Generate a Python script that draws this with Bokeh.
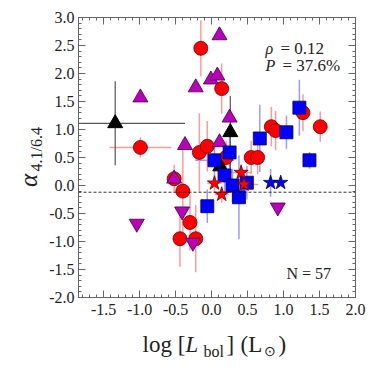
import numpy as np
from bokeh.plotting import figure
from bokeh.layouts import row, column
from bokeh.models import Range1d, LinearAxis, FixedTicker, PrintfTickFormatter, Label, Span, CustomJSTickFormatter
from bokeh.core.properties import value
from bokeh.embed import file_html
from bokeh.resources import INLINE

# ---- data ----
rc_x = [-0.99, -0.15, 0.14, -0.52, -0.40, -0.30, -0.44, -0.22, -0.17, -0.06, 0.83, 0.89, 0.55, 0.64, 1.27, 1.51, 0.20]
rc_y = [0.68, 2.45, 1.73, 0.12, -0.10, -0.66, -0.95, -0.95, 0.59, 0.70, 1.05, 0.98, 0.50, 0.50, 1.30, 1.05, 0.50]
rc_yerr = [0.18, 0.50, 0.45, 0.25, 0.80, 0.50, 0.50, 0.60, 0.70, 0.45, 0.35, 0.35, 0.30, 0.30, 0.33, 0.27, 0.30]
rc_xerr = [0.43, 0, 0, 0, 0, 0, 0, 0, 0, 0, 0, 0, 0, 0, 0, 0, 0]

mu_x = [-0.99, -0.37, -0.52, 0.11, -0.22, -0.01, 0.08, 0.25, 0.11]
mu_y = [1.57, 0.72, 0.12, 2.68, 1.75, 1.89, 1.96, 1.21, 0.77]

md_x = [-1.04, -0.41, -0.26, 0.92]
md_y = [-0.68, -0.46, -1.02, -0.39]

bk_x = [-1.34, 0.26, 0.12]
bk_y = [1.11, 0.95, 0.34]
bk_yerr = [0.75, 0.65, 0.20]
bk_xerr = [0.97, 0, 0]

bs_x = [-0.06, 0.04, 0.25, 0.18, 0.67, 1.04, 1.22, 1.36, 0.29, 0.49, 0.38]
bs_y = [-0.37, 0.45, 0.59, 0.18, 0.84, 0.95, 1.39, 0.45, 0.00, 0.05, -0.21]
bs_yerr = [0.30, 0.30, 0.30, 0.35, 0.60, 0.30, 0.50, 0.15, 0.30, 0.30, 0.75]
bs_xerr = [0, 0.27, 0, 0, 0, 0, 0, 0, 0, 0, 0]

rs_x = [0.04, 0.14, 0.41, 0.45]
rs_y = [0.04, -0.16, 0.23, 0.02]
rs_yerr = [0.15, 0.15, 0.15, 0.15]
rs_xerr = [0.10, 0.10, 0.15, 0.20]

bst_x = [0.82, 0.96]
bst_y = [0.05, 0.05]
bst_yerr = [0.25, 0.0]

dash_level = -0.12
x_ticks = [-1.5, -1.0, -0.5, 0.0, 0.5, 1.0, 1.5, 2.0]
y_ticks = [-2.0, -1.5, -1.0, -0.5, 0.0, 0.5, 1.0, 1.5, 2.0, 2.5, 3.0]

FONT = "Liberation Serif"
TXT = "#222222"

p = figure(width=322, height=322, x_range=Range1d(-1.85, 2.0), y_range=Range1d(-2.0, 3.0),
           output_backend="svg", toolbar_location=None,
           min_border_left=28, min_border_right=13, min_border_top=17, min_border_bottom=25,
           x_axis_type=None, y_axis_type=None)
p.grid.visible = False
p.outline_line_color = "#666666"


def err_segments(x, y, xe, ye, color, width):
    x = np.array(x, float); y = np.array(y, float)
    ye = np.array(ye, float); xe = np.array(xe, float)
    mv = ye > 0
    p.segment(x[mv], y[mv] - ye[mv], x[mv], y[mv] + ye[mv], line_color=color, line_width=width)
    mh = xe > 0
    p.segment(x[mh] - xe[mh], y[mh], x[mh] + xe[mh], y[mh], line_color=color, line_width=width)


err_segments(rc_x, rc_y, rc_xerr, rc_yerr, "#ff9a9a", 1.5)
err_segments(rs_x, rs_y, rs_xerr, rs_yerr, "#ff9a9a", 1.5)
err_segments(bs_x, bs_y, bs_xerr, bs_yerr, "#9a9aff", 1.5)
err_segments(bst_x, bst_y, [0, 0], bst_yerr, "#9a9aff", 1.5)
err_segments(bk_x, bk_y, bk_xerr, bk_yerr, "#555555", 1.2)

p.add_layout(Span(location=dash_level, dimension="width", line_color="black",
                  line_dash="3 2", line_width=0.8))

p.scatter(rc_x, rc_y, marker="circle", size=14, fill_color="#ff0000", line_color="#700000", line_width=0.8)
p.scatter(mu_x, mu_y, marker="triangle", size=15, fill_color="#bb00bb", line_color="#400040", line_width=0.8)
p.scatter(bk_x, bk_y, marker="triangle", size=15, fill_color="black", line_color="black")
p.scatter(bs_x, bs_y, marker="square", size=13, fill_color="#0000ff", line_color="#000050", line_width=0.8)
p.scatter(rs_x, rs_y, marker="star", size=15, fill_color="#ff0000", line_color="#700000", line_width=0.8)
p.scatter(bst_x, bst_y, marker="star", size=15, fill_color="#0000ff", line_color="#000050", line_width=0.8)
p.scatter(md_x, md_y, marker="inverted_triangle", size=15, fill_color="#bb00bb", line_color="#400040", line_width=0.8)


def style_axis(ax, ticks, minor, labels=True):
    ax.ticker = FixedTicker(ticks=ticks, minor_ticks=minor)
    ax.axis_line_color = "#666666"
    ax.major_tick_line_color = "#666666"
    ax.minor_tick_line_color = "#666666"
    ax.major_tick_in = 7
    ax.major_tick_out = 0
    ax.minor_tick_in = 3
    ax.minor_tick_out = 0
    if labels:
        ax.formatter = PrintfTickFormatter(format="%.1f")
        ax.major_label_text_font = FONT
        ax.major_label_text_font_size = "16px"
        ax.major_label_text_color = TXT
    else:
        ax.formatter = CustomJSTickFormatter(code="return ''")
        ax.major_label_standoff = 0


xminor = [round(v, 1) for v in np.arange(-1.8, 2.001, 0.1)]
yminor = [round(v, 1) for v in np.arange(-2.0, 3.001, 0.1)]

xb = LinearAxis(); style_axis(xb, x_ticks, xminor); xb.major_label_standoff = 6
yl = LinearAxis(); style_axis(yl, y_ticks, yminor); yl.major_label_standoff = 4
xt = LinearAxis(); style_axis(xt, x_ticks, xminor, labels=False)
yr = LinearAxis(); style_axis(yr, y_ticks, yminor, labels=False)
p.add_layout(xb, "below")
p.add_layout(yl, "left")
p.add_layout(xt, "above")
p.add_layout(yr, "right")


def lab(x, y, text, size, style="normal"):
    p.add_layout(Label(x=x, y=y, x_units="screen", y_units="screen", text=text,
                       text_font=FONT, text_font_size=f"{size}px", text_font_style=style,
                       text_color=TXT, text_align="left", text_baseline="alphabetic"))


lab(187, 249, "\u03c1", 16, "italic")
lab(202, 249, "= 0.12", 17)
lab(187, 232, "P", 16, "italic")
lab(204, 232, "= 37.6%", 17)
lab(208, 24, "N = 57", 16)


def blank_fig(w, h):
    f = figure(width=w, height=h, x_range=Range1d(0, w), y_range=Range1d(0, h),
               output_backend="svg", toolbar_location=None,
               min_border=0, min_border_left=0, min_border_right=0,
               min_border_top=0, min_border_bottom=0,
               x_axis_type=None, y_axis_type=None)
    f.grid.visible = False
    f.outline_line_color = None
    return f


def txt(f, x, y, text, size, style="normal", angle=0.0):
    f.text(x=[x], y=[y], text=[text], text_font=value(FONT), text_font_size=value(f"{size}px"),
           text_font_style=style, text_color=TXT, text_align="left",
           text_baseline="middle", angle=angle)


# y axis label strip: alpha_{4.1/6.4}
ly = blank_fig(46, 322)
txt(ly, 28, 127, "\u03b1", 25, "italic", angle=np.pi / 2)
txt(ly, 36, 145, "4.1/6.4", 16, angle=np.pi / 2)

# x axis label strip: log [L_bol] (L_sun)
lx = blank_fig(368, 46)
txt(lx, 142, 24, "log [", 23)
txt(lx, 185, 24, "L", 23, "italic")
txt(lx, 203, 17, "bol", 16)
txt(lx, 226, 24, "]", 23)
txt(lx, 240, 24, "(L", 23)
txt(lx, 263, 17, "\u2299", 14)
txt(lx, 278, 24, ")", 23)

layout = column(row(ly, p), lx)
open("out.html", "w").write(file_html(layout, INLINE))
